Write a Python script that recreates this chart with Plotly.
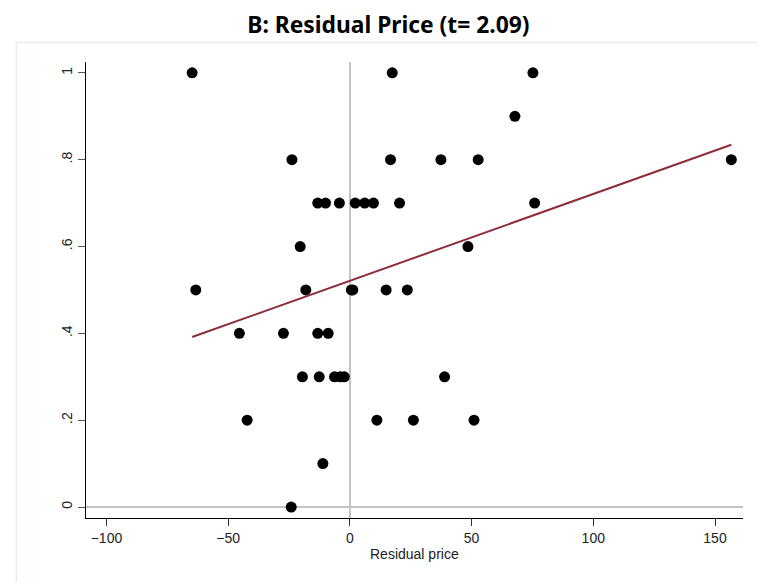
import numpy as np
import plotly.graph_objects as go

# Residual price (x) and share (y) for each observation
resid_price = [
    -64.8, 17.4, 75.2,
    67.8,
    -23.8, 16.7, 37.4, 52.7, 156.7,
    -13.2, -10.0, -4.3, 2.2, 6.1, 9.7, 20.4, 75.9,
    -20.4, 48.5,
    -63.3, -18.1, 0.6, 1.2, 14.9, 23.6,
    -45.4, -27.3, -13.2, -8.9,
    -19.5, -12.6, -6.3, -4.0, -2.3, 38.9,
    -42.2, 11.1, 26.1, 51.0,
    -11.1,
    -24.1,
]
share = [
    1.0, 1.0, 1.0,
    0.9,
    0.8, 0.8, 0.8, 0.8, 0.8,
    0.7, 0.7, 0.7, 0.7, 0.7, 0.7, 0.7, 0.7,
    0.6, 0.6,
    0.5, 0.5, 0.5, 0.5, 0.5, 0.5,
    0.4, 0.4, 0.4, 0.4,
    0.3, 0.3, 0.3, 0.3, 0.3, 0.3,
    0.2, 0.2, 0.2, 0.2,
    0.1,
    0.0,
]

x_ticks = [-100, -50, 0, 50, 100, 150]
y_ticks = [0, 0.2, 0.4, 0.6, 0.8, 1.0]
y_tick_text = ["0", ".2", ".4", ".6", ".8", "1"]

# Linear fit over the observed range
xs = np.array(resid_price)
ys = np.array(share)
slope, intercept = np.polyfit(xs, ys, 1)
fit_x = np.array([xs.min(), xs.max()])
fit_y = intercept + slope * fit_x

fig = go.Figure()
fig.add_trace(go.Scatter(
    x=resid_price, y=share, mode="markers",
    marker=dict(size=11, color="black"),
    hoverinfo="x+y", showlegend=False,
))
fig.add_trace(go.Scatter(
    x=fit_x, y=fit_y, mode="lines",
    line=dict(color="#8e2c38", width=2),
    showlegend=False,
))

tick_font = dict(family="Liberation Sans, Arial, sans-serif", size=14, color="#222")

fig.update_layout(
    width=757, height=582,
    margin=dict(l=86, r=14.3, t=61.7, b=64.3),
    paper_bgcolor="white", plot_bgcolor="white",
    title=dict(
        text="<b>B: Residual Price (t= 2.09)</b>",
        x=0.513, xanchor="center", y=0.957, yanchor="middle",
        font=dict(family="Noto Sans, Open Sans, sans-serif", size=22.8, color="black"),
    ),
    xaxis=dict(
        range=[-108.4, 161.5], tickvals=x_ticks,
        showgrid=False, zeroline=True, zerolinecolor="#c4c4c4", zerolinewidth=1.6,
        showline=True, linecolor="black", linewidth=1.3,
        ticks="outside", ticklen=7, tickwidth=1.2, tickcolor="#333",
        tickfont=tick_font,
    ),
    yaxis=dict(
        range=[-0.0253, 1.025], tickvals=y_ticks, ticktext=y_tick_text,
        tickangle=-90,
        showgrid=False, zeroline=True, zerolinecolor="#c4c4c4", zerolinewidth=1.6,
        showline=True, linecolor="black", linewidth=1.3,
        ticks="outside", ticklen=7, tickwidth=1.2, tickcolor="#555",
        tickfont=tick_font,
    ),
    annotations=[dict(
        text="Residual price", xref="paper", yref="paper",
        x=0.5, y=-0.078, xanchor="center", yanchor="middle", showarrow=False,
        font=dict(family="Liberation Sans, Arial, sans-serif", size=14, color="#222"),
    )],
    shapes=[dict(
        type="rect", xref="paper", yref="paper", layer="below",
        x0=-0.106, x1=1.05, y0=-0.2, y1=1.043,
        line=dict(color="#e6eef0", width=1.5), fillcolor="rgba(0,0,0,0)",
    )],
)

fig.write_html("out.html")
